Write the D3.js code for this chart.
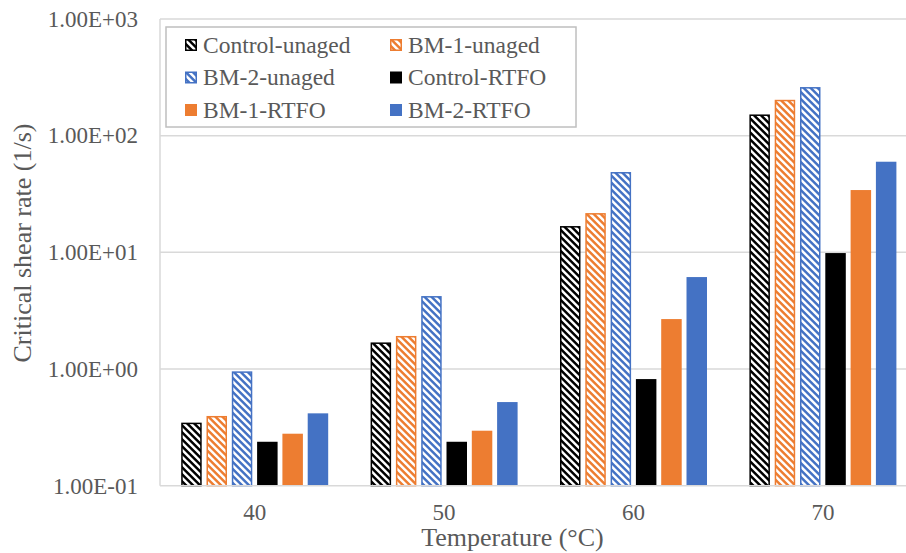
<!DOCTYPE html>
<html>
<head>
<meta charset="utf-8">
<script src="https://cdn.jsdelivr.net/npm/d3@7"></script>
<style>
  body { margin: 0; background: #fff; }
  svg text { font-family: "Liberation Serif", "Times New Roman", serif; fill: #595959; }
</style>
</head>
<body>
<div id="chart"></div>
<script>
// donnees
const temperatures = ["40", "50", "60", "70"];
const seriesNames = ["Control-unaged", "BM-1-unaged", "BM-2-unaged", "Control-RTFO", "BM-1-RTFO", "BM-2-RTFO"];
const controlUnaged = [0.347, 1.69, 16.8, 152];
const bm1Unaged = [0.396, 1.92, 21.7, 203];
const bm2Unaged = [0.955, 4.22, 48.8, 261];
const controlRTFO = [0.238, 0.238, 0.82, 9.86];
const bm1RTFO = [0.279, 0.296, 2.68, 34.2];
const bm2RTFO = [0.417, 0.521, 6.14, 59.8];
const yTicks = [0.1, 1, 10, 100, 1000];
const yTickLabels = ["1.00E-01", "1.00E+00", "1.00E+01", "1.00E+02", "1.00E+03"];

const values = [controlUnaged, bm1Unaged, bm2Unaged, controlRTFO, bm1RTFO, bm2RTFO];
const colors = ["#000000", "#ED7D31", "#4472C4", "#000000", "#ED7D31", "#4472C4"];
const hatched = [true, true, true, false, false, false];
const FONT = "'Liberation Serif', 'Times New Roman', serif";

const W = 906, H = 553;
const plot = { left: 160, right: 917.6, top: 19, bottom: 485.7 };

const svg = d3.select("#chart").append("svg")
  .attr("width", W).attr("height", H)
  .style("font-family", FONT);

// motifs hachures (diagonale descendante large)
const T = 7;
const defs = svg.append("defs");
["#000000", "#ED7D31", "#4472C4"].forEach(function (c, i) {
  const p = defs.append("pattern")
    .attr("id", "hatch" + i)
    .attr("patternUnits", "userSpaceOnUse")
    .attr("width", T).attr("height", T);
  p.append("rect").attr("width", T).attr("height", T).attr("fill", "#fff");
  p.append("path")
    .attr("d", `M0,0 L${T / 2},0 L${T},${T / 2} L${T},${T} Z M0,${T / 2} L0,${T} L${T / 2},${T} Z`)
    .attr("fill", c);
});
function fillFor(i) {
  if (!hatched[i]) return colors[i];
  return "url(#hatch" + ["#000000", "#ED7D31", "#4472C4"].indexOf(colors[i]) + ")";
}

const x0 = d3.scaleBand().domain(temperatures).range([plot.left, plot.right]);
const groupW = 147;
const x1 = d3.scaleBand().domain(seriesNames).range([0, groupW]).paddingInner(0.19);
const groupOffset = (x0.bandwidth() - groupW) / 2;

const y = d3.scaleLog().domain([0.1, 1000]).range([plot.bottom, plot.top]);

// grille
svg.append("g").selectAll("line")
  .data(yTicks.slice(1))
  .enter().append("line")
  .attr("x1", plot.left).attr("x2", plot.right)
  .attr("y1", d => y(d)).attr("y2", d => y(d))
  .attr("stroke", "#d9d9d9").attr("stroke-width", 1.5);

// axe y
svg.append("line")
  .attr("x1", plot.left).attr("x2", plot.left)
  .attr("y1", plot.top).attr("y2", plot.bottom)
  .attr("stroke", "#d9d9d9").attr("stroke-width", 1.5);

svg.append("g").selectAll("text")
  .data(yTicks)
  .enter().append("text")
  .attr("x", 138)
  .attr("y", d => y(d))
  .attr("dy", "0.34em")
  .attr("text-anchor", "end")
  .style("font-family", FONT)
  .style("font-size", "23px")
  .text((d, i) => yTickLabels[i]);

// barres
seriesNames.forEach(function (name, i) {
  const inset = hatched[i] ? 0.75 : 0;
  svg.append("g").selectAll("rect")
    .data(values[i])
    .enter().append("rect")
    .attr("x", (d, j) => x0(temperatures[j]) + groupOffset + x1(name) + inset)
    .attr("width", x1.bandwidth() - 2 * inset)
    .attr("y", d => y(d) + inset)
    .attr("height", d => plot.bottom - y(d) - inset)
    .attr("fill", fillFor(i))
    .attr("stroke", hatched[i] ? colors[i] : "none")
    .attr("stroke-width", 1.5);
});

// axe x
svg.append("line")
  .attr("x1", plot.left).attr("x2", plot.right)
  .attr("y1", plot.bottom).attr("y2", plot.bottom)
  .attr("stroke", "#d9d9d9").attr("stroke-width", 1.5);

svg.append("g").selectAll("text")
  .data(temperatures)
  .enter().append("text")
  .attr("x", d => x0(d) + x0.bandwidth() / 2)
  .attr("y", 520)
  .attr("text-anchor", "middle")
  .style("font-family", FONT)
  .style("font-size", "23px")
  .text(d => d);

// titres des axes
svg.append("text")
  .attr("x", 512.5).attr("y", 546)
  .attr("text-anchor", "middle")
  .style("font-family", FONT)
  .style("font-size", "26px")
  .text("Temperature (°C)");

svg.append("text")
  .attr("transform", "translate(31,243) rotate(-90)")
  .attr("text-anchor", "middle")
  .style("font-family", FONT)
  .style("font-size", "26px")
  .text("Critical shear rate (1/s)");

// legende
const legend = svg.append("g");
legend.append("rect")
  .attr("x", 166).attr("y", 27).attr("width", 410).attr("height", 100)
  .attr("fill", "#fff").attr("stroke", "#bfbfbf").attr("stroke-width", 1.5);

seriesNames.forEach(function (name, i) {
  const col = i % 2, row = Math.floor(i / 2);
  const lx = col === 0 ? 185 : 390;
  const ly = 45 + row * 32.5;
  const inset = hatched[i] ? 0.75 : 0;
  legend.append("rect")
    .attr("x", lx + inset).attr("y", ly - 6 + inset)
    .attr("width", 12 - 2 * inset).attr("height", 12 - 2 * inset)
    .attr("fill", fillFor(i))
    .attr("stroke", hatched[i] ? colors[i] : "none")
    .attr("stroke-width", 1.5);
  legend.append("text")
    .attr("x", lx + 18).attr("y", ly)
    .attr("dy", "0.34em")
    .style("font-family", FONT)
    .style("font-size", "23.5px")
    .text(name);
});
</script>
</body>
</html>
